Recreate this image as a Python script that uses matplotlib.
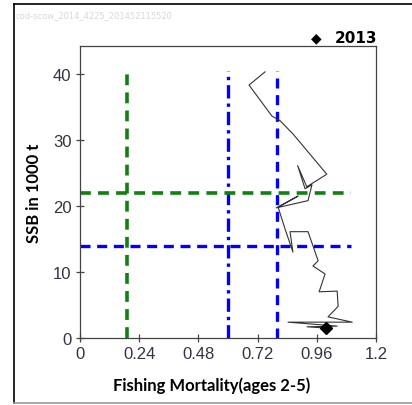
import matplotlib
matplotlib.use('Agg')
import matplotlib.pyplot as plt
from matplotlib.lines import Line2D

# stock trajectory (F ages 2-5 vs SSB in 1000 t), last point is 2013
f_bar = [0.750, 0.685, 0.778, 0.811, 0.863, 1.000, 0.919, 0.882, 0.912, 0.940,
         0.924, 0.795, 0.884, 0.803, 0.831, 0.863, 0.851, 0.924, 0.965, 0.944,
         0.993, 0.969, 1.042, 1.046, 1.005, 1.103, 0.843, 1.042, 0.920, 0.997]
ssb = [40.3, 38.3, 33.6, 32.9, 30.9, 24.8, 22.9, 26.1, 22.6, 23.2,
       20.8, 19.7, 21.5, 19.8, 16.5, 13.0, 16.1, 16.1, 11.7, 10.9,
       9.7, 7.0, 7.1, 4.8, 3.2, 2.4, 2.4, 1.8, 1.7, 1.5]
last_year = '2013'

# reference points
f_lim = 0.19
f_mid = 0.6
f_high = 0.8
b_green = 22
b_blue = 14
ref_top = 40.5
ref_right = 1.1

xticks = [0, 0.24, 0.48, 0.72, 0.96, 1.2]
xtick_labels = ['0', '0.24', '0.48', '0.72', '0.96', '1.2']
yticks = [0, 10, 20, 30, 40]

fig = plt.figure(figsize=(4.12, 4.06), dpi=100)
ax = fig.add_axes([0.194, 0.165, 0.719, 0.719])

green = '#108010'
blue = '#0000ff'

ax.plot([f_lim, f_lim], [0, ref_top], color=green, lw=2.6, ls=(0, (3, 2)))
ax.plot([f_mid, f_mid], [0, ref_top], color=blue, lw=2.4, ls=(0, (4, 1.5, 1, 1.5)))
ax.plot([f_high, f_high], [0, ref_top], color=blue, lw=2.4, ls=(0, (3, 2)))
ax.plot([0, ref_right], [b_green, b_green], color=green, lw=2.6, ls=(0, (3, 2)))
ax.plot([0, ref_right], [b_blue, b_blue], color=blue, lw=2.4, ls=(0, (3, 2)))

ax.plot(f_bar, ssb, color='#333333', lw=0.8)
ax.plot(f_bar[-1], ssb[-1], marker='D', color='black', ms=6, ls='none')

ax.set_xlim(0, 1.2)
ax.set_ylim(0, 44.2)
ax.set_xticks(xticks)
ax.set_xticklabels(xtick_labels)
ax.set_yticks(yticks)
for s in ax.spines.values():
    s.set_color('#444444')
    s.set_linewidth(0.9)
ax.tick_params(direction='inout', length=6, width=0.9, color='#444444',
               labelsize=12, labelcolor='#333344', pad=3)
for lab in ax.get_xticklabels() + ax.get_yticklabels():
    lab.set_family('Liberation Sans')

ax.set_xlabel('Fishing Mortality(ages 2-5)', fontsize=12, fontweight='bold',
              family='Lato', labelpad=9)
ax.xaxis.set_label_coords(0.445, -0.13)
ax.set_ylabel('SSB in 1000 t', fontsize=12, fontweight='bold',
              family='Lato', labelpad=8)

# legend above the plot
fig.text(0.767, 0.906, '\u25c6', fontsize=10, ha='center', va='center')
fig.text(0.813, 0.906, last_year, fontsize=11, fontweight='bold',
         family='DejaVu Sans', ha='left', va='center')

# watermark
fig.text(0.038, 0.962, 'cod-scow_2014_4225_201452115520', fontsize=6,
         color='#d8d8d8', ha='left', va='center')

# outer frame
fig.add_artist(Line2D([0.034, 0.034], [0.005, 0.988], color='black', lw=1.2))
fig.add_artist(Line2D([0.034, 1.0], [0.988, 0.988], color='black', lw=1.2))
fig.add_artist(Line2D([0.034, 1.0], [0.005, 0.005], color='#999999', lw=1.2))

fig.savefig('out.png', dpi=100)
